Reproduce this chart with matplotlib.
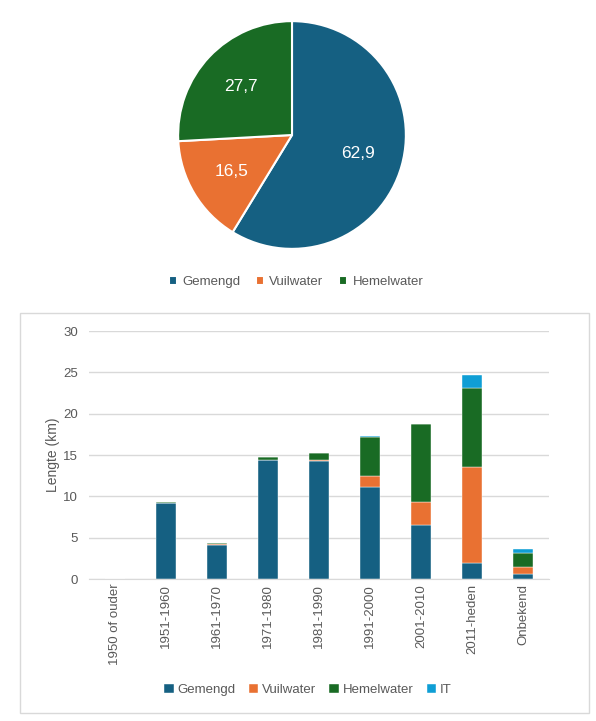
import matplotlib
matplotlib.use("Agg")
import matplotlib.pyplot as plt
from matplotlib.patches import Rectangle
import numpy as np

plt.rcParams['font.family'] = ['Liberation Sans', 'DejaVu Sans']

# pie data (km)
pie_labels = ['Gemengd', 'Vuilwater', 'Hemelwater']
pie_values = [62.9, 16.5, 27.7]
pie_text = ['62,9', '16,5', '27,7']

# bar data (km per period)
periods = ['1950 of ouder', '1951-1960', '1961-1970', '1971-1980', '1981-1990',
           '1991-2000', '2001-2010', '2011-heden', 'Onbekend']
gemengd = [0, 9.25, 4.1, 14.4, 14.25, 11.15, 6.55, 1.95, 0.55]
vuilwater = [0, 0.0, 0.1, 0.05, 0.15, 1.35, 2.75, 11.6, 0.95]
hemelwater = [0, 0.1, 0.1, 0.3, 0.85, 4.7, 9.5, 9.6, 1.7]
it = [0, 0, 0, 0, 0, 0.05, 0, 1.55, 0.4]

colors = {'Gemengd': '#156082', 'Vuilwater': '#E97132',
          'Hemelwater': '#196B24', 'IT': '#0F9ED5'}
grey = '#595959'

W, H = 596, 721
fig = plt.figure(figsize=(W / 100, H / 100), dpi=100)


def px(x0, y0, x1, y1):
    # pixel box (top-left origin) -> figure fraction
    return [x0 / W, 1 - y1 / H, (x1 - x0) / W, (y1 - y0) / H]


# ---- pie ----
ax_pie = fig.add_axes(px(177, 20, 407, 250))
wedges, _ = ax_pie.pie(pie_values, startangle=90, counterclock=False,
                       colors=[colors[k] for k in pie_labels],
                       wedgeprops=dict(edgecolor='white', linewidth=1.5))
ax_pie.set_xlim(-1.01, 1.01)
ax_pie.set_ylim(-1.01, 1.01)
ax_pie.set_aspect('equal')
total = sum(pie_values)
ang = 90
for w, v, t in zip(wedges, pie_values, pie_text):
    a = ang - 360 * v / total / 2
    ang -= 360 * v / total
    r = 0.6 if v > 30 else 0.62
    ax_pie.text(r * np.cos(np.radians(a)), r * np.sin(np.radians(a)), t,
                ha='center', va='center', color='white', fontsize=12.5)

fig.legend(wedges, pie_labels, loc='center', bbox_to_anchor=(296 / W, 1 - 282 / H),
           ncol=3, frameon=False, fontsize=9.5, labelcolor=grey,
           handlelength=0.6, handleheight=0.6, handletextpad=0.4, columnspacing=1.2)

# ---- bar chart ----
fig.patches.append(Rectangle((20 / W, 1 - 713 / H), 569 / W, 400 / H,
                             transform=fig.transFigure, fill=False,
                             edgecolor='#d9d9d9', linewidth=1))

ax = fig.add_axes(px(89, 331, 549, 579))
x = np.arange(len(periods))
bw = 0.39
bottom = np.zeros(len(periods))
handles = []
for name, vals in [('Gemengd', gemengd), ('Vuilwater', vuilwater),
                   ('Hemelwater', hemelwater), ('IT', it)]:
    b = ax.bar(x, vals, bw, bottom=bottom, color=colors[name], label=name,
               edgecolor='white', linewidth=0.3)
    handles.append(b)
    bottom += np.array(vals)

ax.set_ylim(0, 30)
ax.set_xlim(-0.5, len(periods) - 0.5)
ax.set_yticks(range(0, 31, 5))
ax.yaxis.grid(True, color='#d9d9d9', linewidth=1)
ax.set_axisbelow(True)
for s in ['top', 'right', 'left']:
    ax.spines[s].set_visible(False)
ax.spines['bottom'].set_color('#d9d9d9')
ax.tick_params(axis='both', length=0, colors=grey, labelsize=9.5)
ax.tick_params(axis='y', pad=8)
ax.set_xticks(x)
ax.set_xticklabels(periods, rotation=90)
ax.set_ylabel('Lengte (km)', color=grey, fontsize=10)
ax.yaxis.set_label_coords(-29 / 460, 0.5)

fig.legend(handles, ['Gemengd', 'Vuilwater', 'Hemelwater', 'IT'], loc='center',
           bbox_to_anchor=(308 / W, 1 - 690 / H), ncol=4, frameon=False,
           fontsize=9.5, labelcolor=grey, handlelength=0.7, handleheight=0.7,
           handletextpad=0.3, columnspacing=1.0)

fig.savefig('out.png', dpi=100)
